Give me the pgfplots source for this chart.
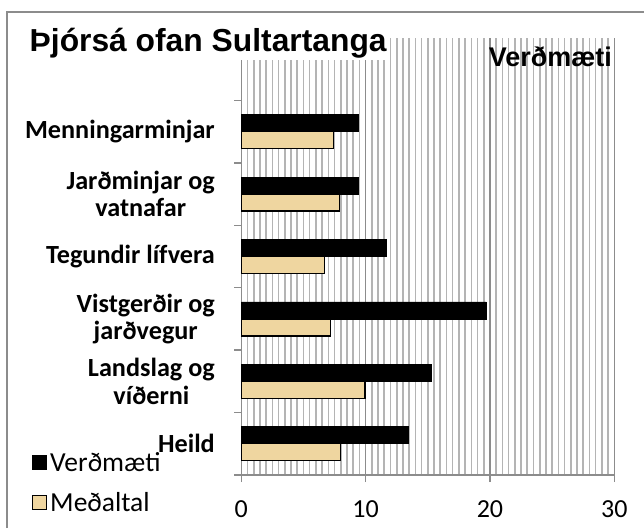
\documentclass[border=0pt]{standalone}
\usepackage{fontspec}
\usepackage{pgfplots}
\pgfplotsset{compat=1.18}
\setmainfont{Carlito}
\newfontfamily\arialfont{Liberation Sans}
\definecolor{tan}{HTML}{EFD6A0}
\definecolor{gridmaj}{HTML}{8C8C8C}
\definecolor{gridmin}{HTML}{B4B4B4}
\begin{document}
\begin{tikzpicture}[x=1pt,y=1pt]
\useasboundingbox (0,0) rectangle (644,528);
\draw[gridmaj, line width=1.3pt] (7,0) -- (7,516) -- (644,516);
\begin{axis}[
  at={(241.3pt,53pt)}, anchor=south west,
  scale only axis, width=373pt, height=437pt,
  xmin=0, xmax=30, ymin=-0.5, ymax=6.5,
  xbar, bar width=17pt,
  axis lines*=left,
  axis line style={gridmaj, line width=1.3pt},
  xtick={0,10,20,30},
  minor x tick num=19,
  minor tick length=0pt,
  xmajorgrids, xminorgrids,
  major grid style={gridmaj, line width=1.4pt},
  minor grid style={gridmin, line width=1.6pt},
  ytick={-0.5,0.5,...,6.5},
  yticklabels={},
  tick align=outside,
  major tick length=7pt,
  tick style={gridmaj, line width=1.3pt},
  /pgf/number format/assume math mode=true,
  xticklabel style={font=\fontsize{26}{29}\selectfont, yshift=-15pt},
  legend style={at={(-0.561,0.06)}, anchor=north west, draw=none, fill=none,
    font=\fontsize{27.5}{30}\selectfont, row sep=14pt, inner sep=0pt,
    nodes={inner sep=3pt}},
  legend cell align=left,
  clip=false,
]
\addplot[fill=black, draw=black, line width=0.8pt, bar shift=8.5pt,
  legend image code/.code={\draw[fill=black,draw=black] (0pt,-7pt) rectangle (14pt,7pt);}]
  coordinates {(13.4,0) (15.3,1) (19.7,2) (11.7,3) (9.4,4) (9.4,5)};
\addlegendentry{Verðmæti}
\addplot[fill=tan, draw=black, line width=1.3pt, bar shift=-8.5pt,
  legend image code/.code={\draw[fill=tan,draw=black,line width=1pt] (0pt,-7pt) rectangle (14pt,7pt);}]
  coordinates {(8.0,0) (9.95,1) (7.2,2) (6.7,3) (7.9,4) (7.4,5)};
\addlegendentry{Meðaltal}
\begin{scope}[every node/.style={anchor=east, align=center, font=\bfseries\fontsize{26.2}{27.5}\selectfont}]
\node[xshift=-23pt] at (axis cs:0,5) {Menningarminjar};
\node[xshift=-23pt] at (axis cs:0,4) {Jarðminjar og\\vatnafar};
\node[xshift=-23pt] at (axis cs:0,3) {Tegundir lífvera};
\node[xshift=-23pt] at (axis cs:0,2) {Vistgerðir og\\jarðvegur};
\node[xshift=-23pt] at (axis cs:0,1) {Landslag og\\víðerni};
\node[anchor=base east, xshift=-23pt, yshift=-9pt] at (axis cs:0,0) {Heild};
\end{scope}
\end{axis}
\node[anchor=base west, fill=white, inner sep=1.5pt, font=\arialfont\bfseries\fontsize{31.8}{34}\selectfont] at (28,476) {Þjórsá ofan Sultartanga};
\node[anchor=base east, inner sep=0pt, font=\arialfont\bfseries\fontsize{27}{29}\selectfont] at (612,461) {Verðmæti};
\end{tikzpicture}
\end{document}
